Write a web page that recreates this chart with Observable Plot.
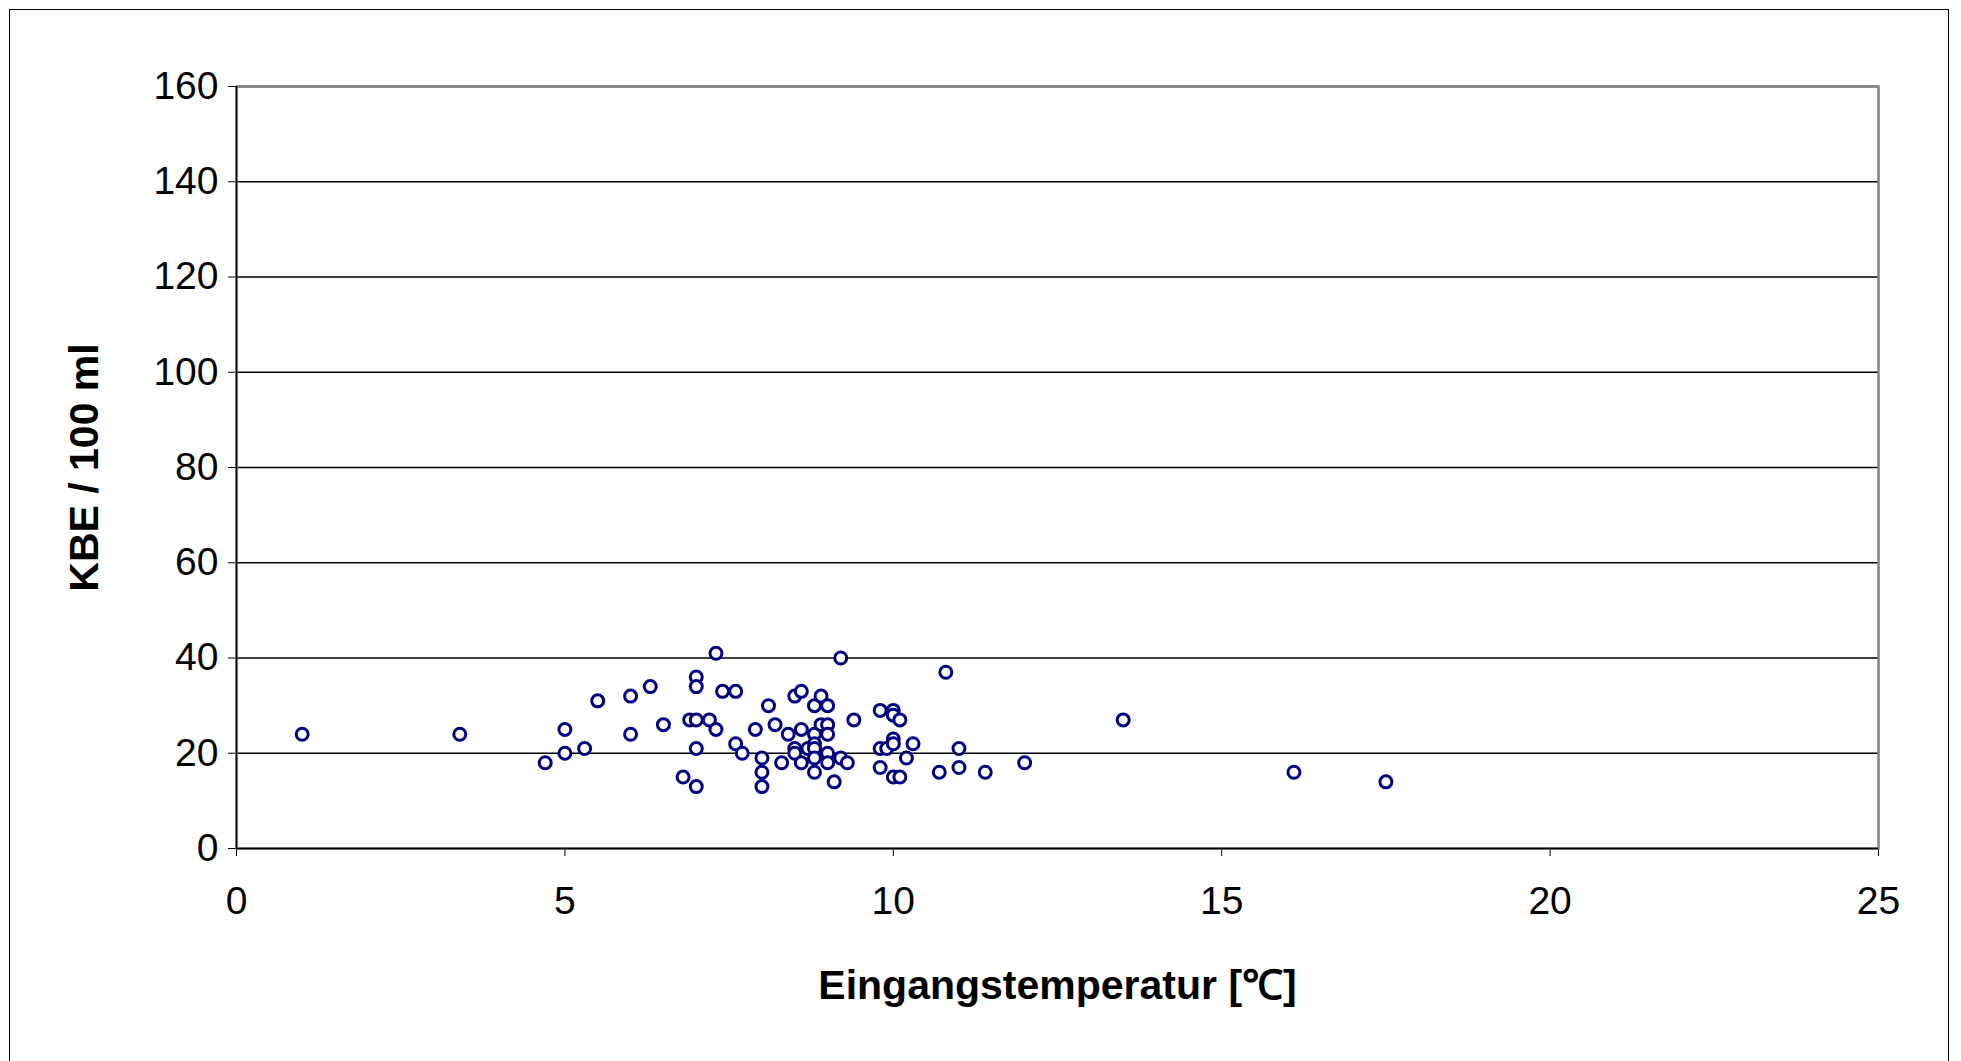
<!DOCTYPE html>
<html><head><meta charset="utf-8">
<script src="https://cdn.jsdelivr.net/npm/d3@7"></script>
<script src="https://cdn.jsdelivr.net/npm/@observablehq/plot@0.6"></script>
<style>
body{margin:0;background:#fff;font-family:"Liberation Sans",Arial,sans-serif}
#box{position:absolute;left:9px;top:9px;width:1938px;height:1070px;border:1.5px solid #000}
#chart{position:absolute;left:0;top:0}
g[aria-label="y-axis label"] text,g[aria-label="x-axis label"] text{font-weight:bold;font-size:41px}
</style></head><body>
<div id="box"></div>
<div id="chart"></div>
<script>
const temp = [1,3.4,4.7,5,5,5.3,5.5,6,6,6.3,6.5,6.8,6.9,7,7,7,7,7,7.2,7.3,7.3,7.4,7.6,7.6,7.7,7.9,8,8,8,8.1,8.2,8.3,8.4,8.5,8.5,8.5,8.6,8.6,8.6,8.7,8.8,8.8,8.8,8.8,8.8,8.8,8.9,8.9,9,9,9,9,9,9.1,9.2,9.2,9.3,9.4,9.8,9.8,9.8,9.9,10,10,10,10,10,10.1,10.1,10.2,10.3,10.7,10.8,11,11,11.4,12,13.5,16.1,17.5];
const kbe = [24,24,18,25,20,21,31,32,24,34,26,15,27,36,34,27,21,13,27,41,25,33,33,22,20,25,19,16,13,30,26,18,24,32,21,20,33,25,18,21,30,24,22,21,19,16,32,26,30,26,24,20,18,14,40,19,18,27,29,21,17,21,29,28,23,22,15,27,15,19,22,16,37,21,17,16,18,27,16,14];
const xTicks = [0,5,10,15,20,25];
const yTicks = [0,20,40,60,80,100,120,140,160];
const data = temp.map((t,i)=>({t,k:kbe[i]}));
const chart = Plot.plot({
  width:1961, height:1061,
  marginLeft:236, marginRight:83, marginTop:86, marginBottom:213,
  style:{fontSize:"39px",fontFamily:"Liberation Sans, Arial, sans-serif",color:"#000",background:"transparent"},
  x:{domain:[0,25],ticks:xTicks,tickSize:8,tickPadding:30,label:"Eingangstemperatur [℃]",labelArrow:"none",labelAnchor:"center",labelOffset:150},
  y:{domain:[0,160],ticks:yTicks,tickSize:8,tickPadding:10,label:"KBE / 100 ml",labelArrow:"none",labelAnchor:"center",labelOffset:168},
  marks:[
    Plot.gridY(yTicks,{stroke:"#000",strokeOpacity:1,strokeWidth:1.3}),
    Plot.frame({stroke:"#808080",strokeWidth:2.5}),
    Plot.ruleY([0],{stroke:"#000",strokeWidth:1.5}),
    Plot.ruleX([0],{stroke:"#000",strokeWidth:1.5}),
    Plot.dot(data,{x:"t",y:"k",r:6,stroke:"#000080",strokeWidth:3,fill:"#fff"})
  ]
});
document.getElementById("chart").append(chart);
</script></body></html>
